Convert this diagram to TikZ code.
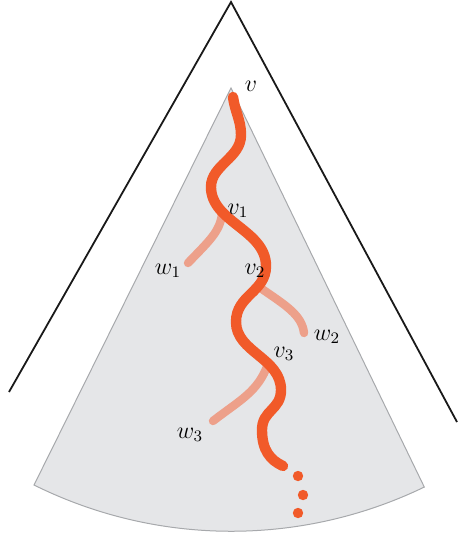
\documentclass[tikz,border=0pt]{standalone}
\usepackage{tikz}
\definecolor{mainor}{HTML}{F15A29}
\definecolor{lightor}{HTML}{EDA08A}
\definecolor{sectorfill}{HTML}{E5E6E8}
\definecolor{sectoredge}{HTML}{A7A9AC}
\begin{document}
\begin{tikzpicture}[x=0.5pt,y=-0.5pt,
  mainpath/.style={draw=mainor,line width=5.2pt,line cap=round},
  branch/.style={draw=lightor,line width=4.2pt,line cap=round},
  lbl/.style={font=\large,inner sep=1pt},
  dotst/.style={fill=mainor,circle,inner sep=0pt,minimum size=5.2pt}]
\useasboundingbox (0,0) rectangle (458,535);
% outer wedge
\coordinate (top) at (231,2);
\coordinate (outl) at (9,392);
\coordinate (outr) at (457,422);
\draw[line width=0.9pt,black!90] (outl) -- (top) -- (outr);
% gray sector
\coordinate (apex) at (231,88);
\fill[sectorfill,draw=sectoredge,line width=0.5pt] (apex) -- (34,485)
  arc[start angle=-116.4,end angle=-64.2,radius=221.8pt] -- cycle;
% branches
\draw[branch] (222,214) .. controls (220,232) and (208,242) .. (188,263);
\draw[branch] (262,289) .. controls (285,305) and (302,315) .. (304,333);
\draw[branch] (268,364) .. controls (258,392) and (240,400) .. (213,421);
% main path
\draw[mainpath] (233,97) .. controls (235,112) and (241,120) .. (241,135)
  .. controls (241,158) and (211,165) .. (211,187)
  .. controls (211,222) and (266,230) .. (266,266)
  .. controls (266,292) and (236,295) .. (236,322)
  .. controls (236,352) and (281,358) .. (281,390)
  .. controls (281,410) and (262,410) .. (262,430)
  .. controls (262,450) and (270,460) .. (283,466);
% dots
\node[dotst] (d1) at (298,476) {};
\node[dotst] (d2) at (303,495) {};
\node[dotst] (d3) at (298,513) {};
% labels
\node[lbl] (v) at (251,86) {$v$};
\node[lbl] (v1) at (238,211) {$v_1$};
\node[lbl] (w1) at (168,271) {$w_1$};
\node[lbl] (v2) at (255,271) {$v_2$};
\node[lbl] (w2) at (327,337) {$w_2$};
\node[lbl] (v3) at (284,354) {$v_3$};
\node[lbl] (w3) at (190,435) {$w_3$};
\end{tikzpicture}
\end{document}
